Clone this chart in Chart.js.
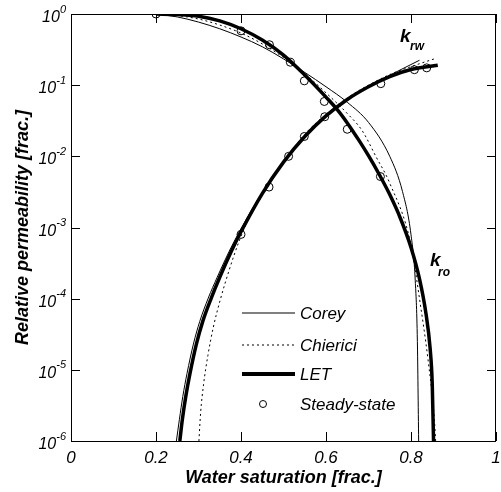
<!DOCTYPE html>
<html>
<head>
<meta charset="utf-8">
<script src="https://cdn.jsdelivr.net/npm/chart.js@4.4.1/dist/chart.umd.min.js"></script>
<style>
html,body{margin:0;padding:0;background:#fff;}
#wrap{width:501px;height:492px;position:relative;}
</style>
</head>
<body>
<div id="wrap"><canvas id="c"></canvas></div>
<script>
// ---- tick labels ----
const xTicks = [0, 0.2, 0.4, 0.6, 0.8, 1];
const yExponents = [0, -1, -2, -3, -4, -5, -6];
const seriesNames = ['Corey', 'Chierici', 'LET', 'Steady-state'];
const xTitle = 'Water saturation [frac.]';
const yTitle = 'Relative permeability [frac.]';

// ---- Corey ----
const swKroCorey = [0.20,0.25,0.30,0.35,0.40,0.45,0.50,0.55,0.60,0.65,0.70,0.75,0.78,0.80,0.81,0.815,0.818];
const kroCorey   = [1.0,0.91,0.77,0.62,0.475,0.347,0.234,0.151,0.095,0.0575,0.030,0.010,0.0032,0.00079,0.000178,0.000025,0.000001];
const swKrwCorey = [0.248,0.255,0.263,0.273,0.288,0.303,0.323,0.344,0.372,0.396,0.45,0.50,0.55,0.60,0.65,0.70,0.75,0.80,0.82];
const krwCorey   = [0.000001,0.000002,0.0000042,0.0000089,0.000023,0.000048,0.000102,0.0002,0.00046,0.00087,0.0031,0.0081,0.0186,0.036,0.062,0.098,0.138,0.195,0.224];

// ---- Chierici ----
const swKroChierici = [0.20,0.25,0.30,0.35,0.40,0.45,0.50,0.55,0.60,0.65,0.685,0.718,0.75,0.80,0.82,0.84,0.855,0.858];
const kroChierici   = [1.0,0.95,0.85,0.70,0.54,0.38,0.245,0.145,0.078,0.040,0.023,0.0098,0.0042,0.00057,0.0001,0.000014,0.000002,0.000001];
const swKrwChierici = [0.301,0.305,0.312,0.322,0.335,0.352,0.372,0.395,0.42,0.45,0.50,0.55,0.60,0.65,0.70,0.75,0.80,0.86];
const krwChierici   = [0.000001,0.0000025,0.0000063,0.0000158,0.00004,0.0001,0.00025,0.00063,0.00141,0.0028,0.0083,0.0204,0.039,0.066,0.10,0.141,0.182,0.24];

// ---- LET ----
const swKroLET = [0.20,0.25,0.30,0.35,0.40,0.45,0.50,0.55,0.60,0.627,0.65,0.678,0.70,0.725,0.75,0.775,0.80,0.82,0.835,0.845,0.85,0.853];
const kroLET   = [1.0,0.98,0.93,0.80,0.62,0.43,0.265,0.139,0.068,0.045,0.0295,0.0166,0.0102,0.0056,0.0029,0.00135,0.000525,0.00019,0.000063,0.00002,0.0000063,0.000001];
const swKrwLET = [0.256,0.262,0.27,0.28,0.295,0.31,0.33,0.35,0.377,0.40,0.45,0.50,0.55,0.60,0.65,0.70,0.75,0.80,0.863];
const krwLET   = [0.000001,0.000002,0.0000042,0.0000089,0.000023,0.000048,0.000102,0.0002,0.00046,0.00087,0.003,0.0083,0.019,0.037,0.063,0.095,0.132,0.166,0.19];

// ---- Steady-state measurements ----
const swSteadyKro = [0.20,0.40,0.467,0.516,0.549,0.596,0.650,0.728];
const kroSteady   = [1.0,0.58,0.37,0.21,0.115,0.059,0.024,0.0052];
const swSteadyKrw = [0.40,0.466,0.512,0.549,0.597,0.729,0.808,0.837];
const krwSteady   = [0.0008,0.0037,0.010,0.019,0.036,0.105,0.165,0.175];

const FONT = "'Liberation Sans', Arial, sans-serif";

function pts(xs, ys) { return xs.map((x, i) => ({ x: x, y: ys[i] })); }

function curve(label, xs, ys, width, dash, order) {
  return {
    label: label,
    data: pts(xs, ys),
    showLine: true,
    borderColor: '#000',
    borderWidth: width,
    borderDash: dash,
    pointRadius: 0,
    pointHoverRadius: 0,
    fill: false,
    cubicInterpolationMode: 'monotone',
    order: order
  };
}

const datasets = [
  curve(seriesNames[0], swKroCorey, kroCorey, 1, [], 4),
  curve(seriesNames[0], swKrwCorey, krwCorey, 1, [], 4),
  curve(seriesNames[1], swKroChierici, kroChierici, 1, [2, 3], 3),
  curve(seriesNames[1], swKrwChierici, krwChierici, 1, [2, 3], 3),
  curve(seriesNames[2], swKroLET, kroLET, 3.5, [], 2),
  curve(seriesNames[2], swKrwLET, krwLET, 3.5, [], 2),
  { label: seriesNames[3], data: pts(swSteadyKro, kroSteady), showLine: false,
    pointStyle: 'circle', pointRadius: 4, pointBorderWidth: 1, pointBorderColor: '#000',
    pointBackgroundColor: 'rgba(0,0,0,0)', order: 1 },
  { label: seriesNames[3], data: pts(swSteadyKrw, krwSteady), showLine: false,
    pointStyle: 'circle', pointRadius: 4, pointBorderWidth: 1, pointBorderColor: '#000',
    pointBackgroundColor: 'rgba(0,0,0,0)', order: 1 }
];

const decor = {
  id: 'decor',
  afterDraw(chart) {
    const ctx = chart.ctx;
    const a = chart.chartArea;
    const xs = chart.scales.x, ys = chart.scales.y;
    ctx.save();
    // frame
    ctx.strokeStyle = '#000';
    ctx.lineWidth = 1;
    ctx.setLineDash([]);
    ctx.strokeRect(Math.round(a.left) + 0.5, Math.round(a.top) + 0.5,
                   Math.round(a.right - a.left) - 1, Math.round(a.bottom - a.top));
    // inner ticks
    const TL = 9;
    ctx.beginPath();
    xTicks.forEach(v => {
      const px = Math.round(xs.getPixelForValue(v)) + 0.5;
      ctx.moveTo(px, a.bottom); ctx.lineTo(px, a.bottom - TL);
      ctx.moveTo(px, a.top); ctx.lineTo(px, a.top + TL);
    });
    yExponents.forEach(e => {
      const py = Math.round(ys.getPixelForValue(Math.pow(10, e))) + 0.5;
      ctx.moveTo(a.left, py); ctx.lineTo(a.left + TL, py);
      ctx.moveTo(a.right, py); ctx.lineTo(a.right - TL, py);
    });
    ctx.stroke();
    // y tick labels with superscript
    ctx.fillStyle = '#000';
    ctx.textBaseline = 'alphabetic';
    ctx.textAlign = 'left';
    yExponents.forEach(e => {
      const py = ys.getPixelForValue(Math.pow(10, e));
      const base = '10', ex = String(e);
      ctx.font = 'italic 11px ' + FONT;
      const ew = ctx.measureText(ex).width;
      ctx.font = 'italic 16px ' + FONT;
      const bw = ctx.measureText(base).width;
      const right = a.left - 5;
      ctx.fillText(base, right - ew - bw, py + 8);
      ctx.font = 'italic 11px ' + FONT;
      ctx.fillText(ex, right - ew, py - 1.5);
    });
    // legend
    const lx0 = a.left + 171, lx1 = a.left + 224, tx = a.left + 229;
    const rows = [a.top + 299, a.top + 331, a.top + 360, a.top + 390];
    ctx.font = 'italic 17px ' + FONT;
    ctx.textBaseline = 'middle';
    rows.forEach((ry, i) => {
      ctx.beginPath();
      if (i < 3) {
        ctx.lineWidth = i === 2 ? 4 : 1;
        ctx.setLineDash(i === 1 ? [2, 3] : []);
        ctx.moveTo(lx0, ry); ctx.lineTo(lx1, ry);
        ctx.stroke();
      } else {
        ctx.lineWidth = 1;
        ctx.setLineDash([]);
        ctx.arc(a.left + 192, ry, 3.5, 0, Math.PI * 2);
        ctx.stroke();
      }
      ctx.fillText(seriesNames[i], tx, ry + 1);
    });
    // curve labels
    ctx.textBaseline = 'alphabetic';
    ctx.font = 'bold italic 19px ' + FONT;
    ctx.fillText('k', a.left + 329, a.top + 28);
    ctx.fillText('k', a.left + 359, a.top + 252);
    ctx.font = 'bold italic 12px ' + FONT;
    ctx.fillText('rw', a.left + 339, a.top + 36);
    ctx.fillText('ro', a.left + 367, a.top + 262);
    ctx.restore();
  }
};

new Chart(document.getElementById('c'), {
  type: 'scatter',
  data: { datasets: datasets },
  options: {
    responsive: true,
    maintainAspectRatio: false,
    animation: false,
    events: [],
    layout: { padding: { top: 14, right: 4, left: 0, bottom: 0 } },
    plugins: { legend: { display: false }, tooltip: { enabled: false } },
    scales: {
      x: {
        type: 'linear', min: 0, max: 1,
        afterBuildTicks: s => { s.ticks = xTicks.map(v => ({ value: v })); },
        afterFit: s => { s.height = 51; s.paddingLeft = 0; s.paddingRight = 0; },
        grid: { display: false, drawTicks: false },
        border: { display: false },
        ticks: {
          autoSkip: false, maxRotation: 0, padding: 7, color: '#000',
          font: { family: FONT, size: 17, style: 'italic' },
          callback: v => String(v)
        },
        title: {
          display: true, text: xTitle, color: '#000',
          font: { family: FONT, size: 18, style: 'italic', weight: 'bold' },
          padding: { top: 0, bottom: 3 }
        }
      },
      y: {
        type: 'logarithmic', min: 1e-6, max: 1,
        afterBuildTicks: s => { s.ticks = yExponents.map(e => ({ value: Math.pow(10, e) })); },
        afterFit: s => { s.width = 71; s.paddingTop = 0; s.paddingBottom = 0; },
        grid: { display: false, drawTicks: false },
        border: { display: false },
        ticks: { display: false },
        title: {
          display: true, text: yTitle, color: '#000',
          font: { family: FONT, size: 18, style: 'italic', weight: 'bold' },
          padding: { top: 12, bottom: 0 }
        }
      }
    }
  },
  plugins: [decor]
});
</script>
</body>
</html>
